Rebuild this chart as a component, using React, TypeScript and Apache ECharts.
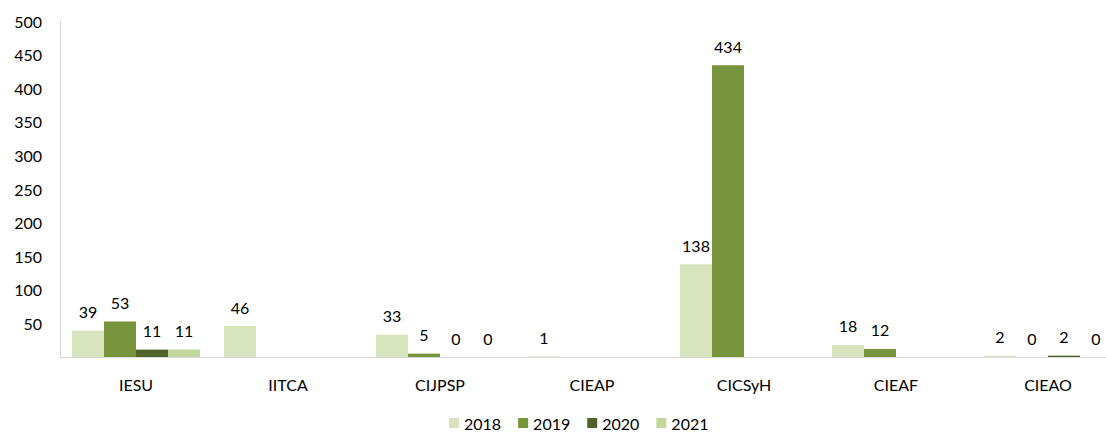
import React, { useEffect, useRef } from "react";
import * as echarts from "echarts";

const categories = ["IESU", "IITCA", "CIJPSP", "CIEAP", "CICSyH", "CIEAF", "CIEAO"];
const seriesNames = ["2018", "2019", "2020", "2021"];
const values2018 = [39, 46, 33, 1, 138, 18, 2];
const values2019 = [53, null, 5, null, 434, 12, 0];
const values2020 = [11, null, 0, null, null, null, 2];
const values2021 = [11, null, 0, null, null, null, 0];
const colors = ["#d7e4bd", "#77933c", "#4f6228", "#c3d69b"];
const yTicks = { min: 0, max: 500, interval: 50 };

const FONT = 'Lato, "Open Sans", sans-serif';

export default function App() {
  const ref = useRef<HTMLDivElement>(null);
  useEffect(() => {
    if (!ref.current) return;
    const chart = echarts.init(ref.current, undefined, { renderer: "svg" });
    const data = [values2018, values2019, values2020, values2021];
    chart.setOption({
      animation: false,
      textStyle: { fontFamily: FONT },
      grid: { left: 60, right: 0, top: 21, bottom: 76, containLabel: false },
      legend: {
        bottom: -3,
        left: 444,
        itemWidth: 10,
        itemHeight: 10,
        itemGap: 17,
        icon: "rect",
        textStyle: { fontFamily: FONT, fontSize: 16, color: "#000" },
        data: seriesNames,
      },
      xAxis: {
        type: "category",
        data: categories,
        axisLine: { lineStyle: { color: "#d9d9d9", width: 1 } },
        axisTick: { show: false },
        axisLabel: { color: "#000", fontSize: 16, fontFamily: FONT, margin: 19 },
      },
      yAxis: {
        type: "value",
        min: yTicks.min,
        max: yTicks.max,
        interval: yTicks.interval,
        axisLine: { show: true, lineStyle: { color: "#d9d9d9", width: 1 } },
        axisTick: { show: false },
        splitLine: { show: false },
        axisLabel: {
          color: "#000",
          fontSize: 16,
          fontFamily: FONT,
          margin: 18,
          showMinLabel: false,
        },
      },
      series: seriesNames.map((name, i) => ({
        name,
        type: "bar",
        data: data[i],
        barGap: "0%",
        barCategoryGap: "15.8%",
        itemStyle: { color: colors[i] },
        label: {
          show: true,
          position: "top",
          distance: 11,
          color: "#000",
          fontSize: 16,
          fontFamily: FONT,
        },
      })),
    });
    return () => chart.dispose();
  }, []);
  return (
    <div
      style={{
        position: "fixed",
        left: 0,
        top: 0,
        width: 1106,
        height: 433,
        overflow: "hidden",
        background: "#fff",
      }}
    >
      <div ref={ref} style={{ width: 1124, height: 433 }} />
    </div>
  );
}
